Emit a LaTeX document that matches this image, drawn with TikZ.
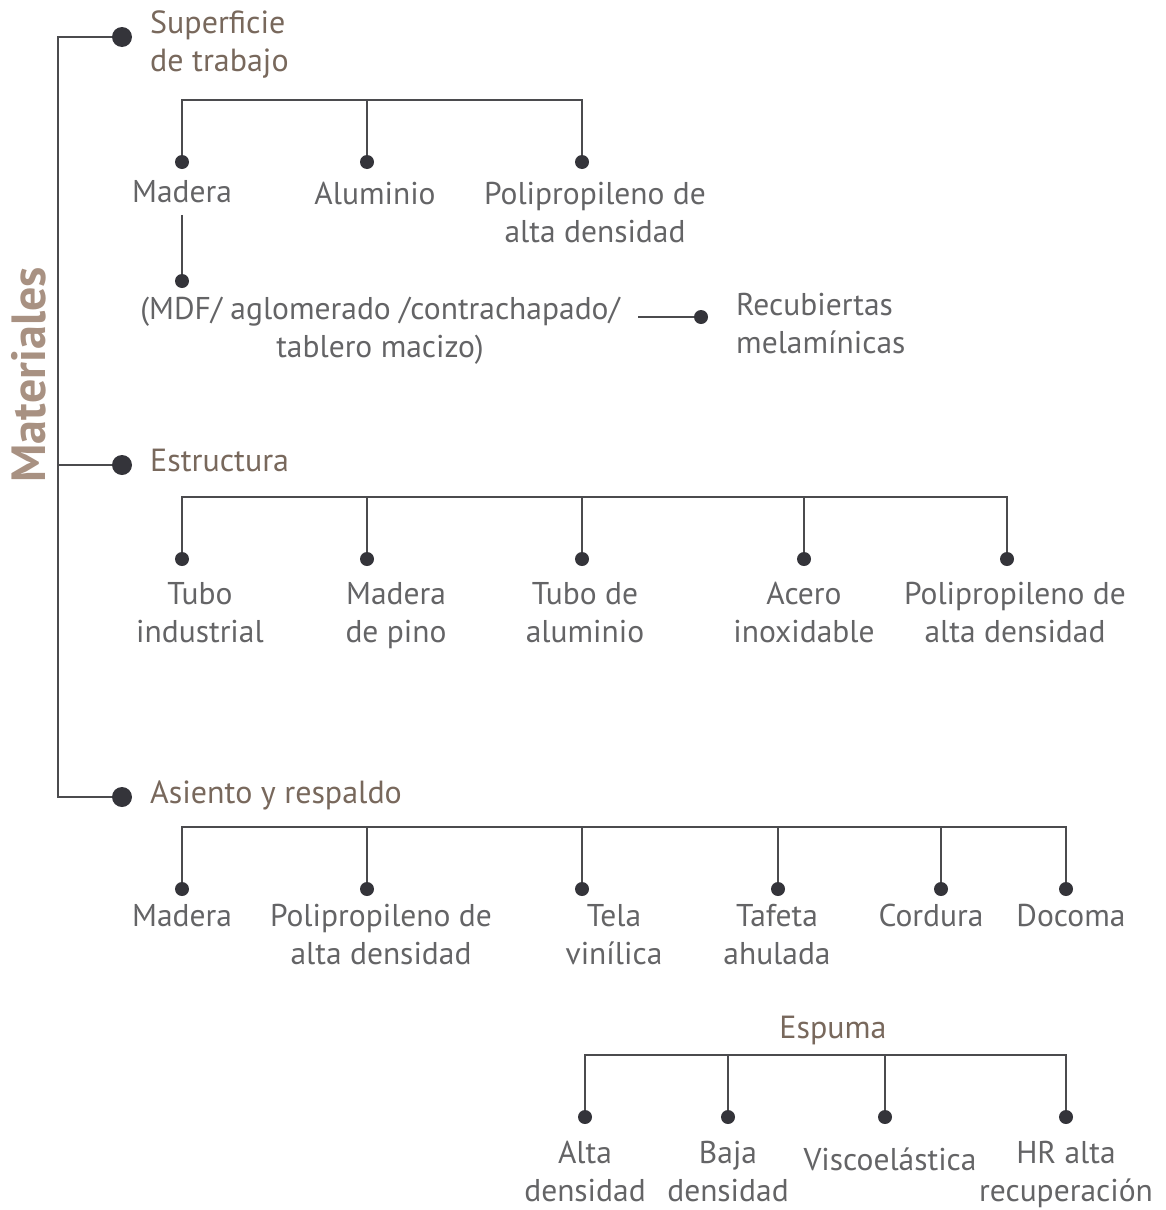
\documentclass[tikz,border=0pt]{standalone}
\usepackage{fontspec}
\setmainfont{PT Sans}
\usetikzlibrary{positioning}
\definecolor{linegray}{RGB}{75,75,78}
\definecolor{dotgray}{RGB}{52,52,58}
\definecolor{textgray}{RGB}{100,100,102}
\definecolor{headbrown}{RGB}{120,104,92}
\definecolor{titlebrown}{RGB}{168,145,130}
\tikzset{
    conn/.style={draw=linegray, line width=2.4pt},
    bigdot/.style={circle, fill=dotgray, inner sep=0pt, minimum size=20pt},
    dot/.style={circle, fill=dotgray, inner sep=0pt, minimum size=14pt},
    item/.style={inner sep=0pt, align=center, anchor=north, text=textgray,
                 font=\fontsize{31.5}{38}\selectfont},
    head/.style={inner sep=0pt, align=left, text=headbrown,
                 font=\fontsize{32}{38}\selectfont},
}

\begin{document}
\begin{tikzpicture}[x=1pt, y=-1pt]
    \useasboundingbox (0,0) rectangle (1165,1210);

    % spine
    \node[rotate=90, inner sep=0pt, text=titlebrown,
          font=\fontsize{48}{54}\selectfont\bfseries] (title) at (29,375) {Materiales};
    \coordinate (top) at (58,37);
    \coordinate (bot) at (58,797);
    \node[bigdot] (hs) at (122,37)  {};
    \node[bigdot] (he) at (122,465) {};
    \node[bigdot] (ha) at (122,797) {};
    \draw[conn] (hs) -- (top) -- (bot) -- (ha);
    \draw[conn] (he) -- (he -| top);

    \node[head, anchor=north west] (sup) at (150,11) {Superficie\\de trabajo};
    \node[head, anchor=west]       (est) at (150,460) {Estructura};
    \node[head, anchor=west]       (asi) at (150,795) {Asiento y respaldo};

    % superficie de trabajo
    \coordinate (sbar) at (182,100);
    \node[dot] (sd1) at (182,162) {};
    \node[dot] (sd2) at (367,162) {};
    \node[dot] (sd3) at (582,162) {};
    \draw[conn] (sd1) -- (sd1 |- sbar) -- (sd3 |- sbar) -- (sd3);
    \draw[conn] (sd2) -- (sd2 |- sbar);
    \node[item] (mad) at (182,180) {Madera};
    \node[item] (alu) at (375,182) {Aluminio};
    \node[item] (pps) at (595,182) {Polipropileno de\\alta densidad};

    \node[dot] (md) at (182,281) {};
    \draw[conn] (mad.south) ++(0,12) -- (md);
    \node[item] (mdf) at (380,297) {(MDF/ aglomerado /contrachapado/\\tablero macizo)};
    \coordinate (mdfend) at (638,317);
    \node[dot] (rd) at (701,317) {};
    \draw[conn] (mdfend) -- (rd);
    \node[item, anchor=north west, align=left] (rec) at (736,293) {Recubiertas\\melamínicas};

    % estructura
    \coordinate (ebar) at (182,497);
    \node[dot] (ed1) at (182,559)  {};
    \node[dot] (ed2) at (367,559)  {};
    \node[dot] (ed3) at (582,559)  {};
    \node[dot] (ed4) at (804,559)  {};
    \node[dot] (ed5) at (1007,559) {};
    \draw[conn] (ed1) -- (ed1 |- ebar) -- (ed5 |- ebar) -- (ed5);
    \foreach \d in {ed2,ed3,ed4}
        \draw[conn] (\d) -- (\d |- ebar);
    \node[item] (tub) at (200,582)  {Tubo\\industrial};
    \node[item] (pin) at (396,582)  {Madera\\de pino};
    \node[item] (tal) at (585,582)  {Tubo de\\aluminio};
    \node[item] (ace) at (804,582)  {Acero\\inoxidable};
    \node[item] (ppe) at (1015,582) {Polipropileno de\\alta densidad};

    % asiento y respaldo
    \coordinate (abar) at (182,827);
    \node[dot] (ad1) at (182,889)  {};
    \node[dot] (ad2) at (367,889)  {};
    \node[dot] (ad3) at (582,889)  {};
    \node[dot] (ad4) at (778,889)  {};
    \node[dot] (ad5) at (941,889)  {};
    \node[dot] (ad6) at (1066,889) {};
    \draw[conn] (ad1) -- (ad1 |- abar) -- (ad6 |- abar) -- (ad6);
    \foreach \d in {ad2,ad3,ad4,ad5}
        \draw[conn] (\d) -- (\d |- abar);
    \node[item] (ama) at (182,904)  {Madera};
    \node[item] (ppa) at (381,904)  {Polipropileno de\\alta densidad};
    \node[item] (tel) at (614,904)  {Tela\\vinílica};
    \node[item] (taf) at (777,904)  {Tafeta\\ahulada};
    \node[item] (cor) at (931,904)  {Cordura};
    \node[item] (doc) at (1071,904) {Docoma};

    % espuma
    \node[head] (esp) at (833,1030) {Espuma};
    \coordinate (pbar) at (585,1055);
    \node[dot] (pd1) at (585,1117)  {};
    \node[dot] (pd2) at (728,1117)  {};
    \node[dot] (pd3) at (885,1117)  {};
    \node[dot] (pd4) at (1066,1117) {};
    \draw[conn] (pd1) -- (pd1 |- pbar) -- (pd4 |- pbar) -- (pd4);
    \foreach \d in {pd2,pd3}
        \draw[conn] (\d) -- (\d |- pbar);
    \node[item] (alt) at (585,1141)  {Alta\\densidad};
    \node[item] (baj) at (728,1141)  {Baja\\densidad};
    \node[item] (vis) at (890,1148)  {Viscoelástica};
    \node[item] (hra) at (1066,1141) {HR alta\\recuperación};
\end{tikzpicture}
\end{document}
